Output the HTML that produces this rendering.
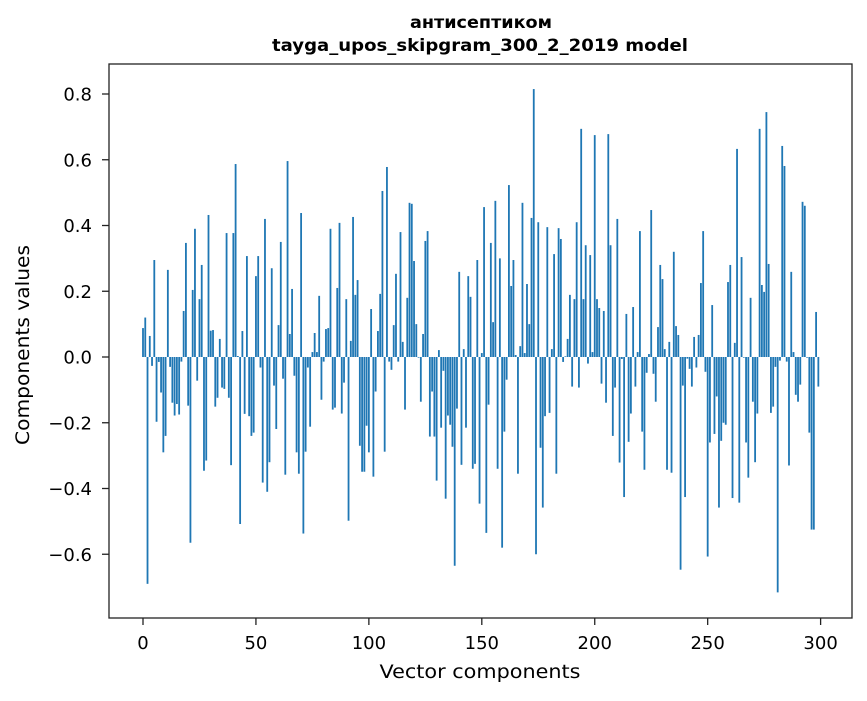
<!DOCTYPE html>
<html><head><meta charset="utf-8"><style>
body{margin:0;background:#fff}
svg text{font-family:"DejaVu Sans","Liberation Sans",sans-serif;fill:#000}
</style></head><body>
<svg id="chart" width="867" height="696" viewBox="0 0 867 696">
<rect width="867" height="696" fill="#fff"/>
<text x="481" y="28" text-anchor="middle" textLength="142" lengthAdjust="spacingAndGlyphs" style="font:bold 17px 'DejaVu Sans',sans-serif">антисептиком</text>
<text x="480" y="51" text-anchor="middle" textLength="416" lengthAdjust="spacingAndGlyphs" style="font:bold 17px 'DejaVu Sans',sans-serif">tayga_upos_skipgram_300_2_2019 model</text>
<g id="bars"></g>
<g id="axes"></g>
<text x="480" y="678" text-anchor="middle" font-size="19" textLength="201" lengthAdjust="spacingAndGlyphs">Vector components</text>
<text transform="translate(29,345) rotate(-90)" text-anchor="middle" font-size="19" textLength="200" lengthAdjust="spacingAndGlyphs">Components values</text>
</svg>
<script>
const values=[0.088,0.12,-0.69,0.064,-0.027,0.295,-0.197,-0.015,-0.108,-0.29,
-0.24,0.265,-0.03,-0.139,-0.178,-0.143,-0.175,-0.014,0.14,0.347,
-0.148,-0.565,0.204,0.39,-0.072,0.176,0.28,-0.346,-0.315,0.432,
0.08,0.082,-0.151,-0.124,0.055,-0.093,-0.097,0.377,-0.124,-0.329,
0.377,0.587,0.003,-0.508,0.079,-0.173,0.307,-0.18,-0.24,-0.23,
0.246,0.307,-0.032,-0.382,0.42,-0.41,-0.32,0.27,-0.087,-0.219,
0.097,0.35,-0.066,-0.358,0.596,0.07,0.207,-0.057,-0.29,-0.355,
0.438,-0.537,-0.288,-0.032,-0.212,0.015,0.073,0.015,0.186,-0.13,
-0.014,0.085,0.088,0.39,-0.16,-0.154,0.21,0.408,-0.172,-0.078,
0.176,-0.498,0.049,0.426,0.189,0.234,-0.27,-0.349,-0.349,-0.209,
-0.29,0.146,-0.364,-0.105,0.079,0.192,0.505,-0.288,0.578,-0.014,
-0.039,0.097,0.253,-0.014,0.38,0.046,-0.16,0.18,0.469,0.466,
0.292,0.1,-0.002,-0.136,0.07,0.353,0.383,-0.242,-0.105,-0.242,
-0.376,0.021,-0.215,-0.042,-0.431,-0.178,-0.206,-0.273,-0.635,-0.157,
0.259,-0.328,0.024,-0.215,0.246,0.183,-0.34,-0.325,0.295,-0.446,
0.012,0.456,-0.535,-0.145,0.347,0.106,0.475,-0.34,0.3,-0.58,
-0.227,-0.069,0.523,0.216,0.295,0.006,-0.355,0.033,0.469,0.012,
0.222,0.1,0.423,0.815,-0.6,0.41,-0.276,-0.458,-0.18,0.395,
-0.17,0.024,0.313,-0.355,0.392,0.359,-0.015,0.002,0.055,0.189,
-0.09,0.176,0.41,-0.093,0.694,0.176,0.34,-0.02,0.31,0.015,
0.675,0.176,0.149,-0.081,0.14,-0.139,0.678,0.34,-0.24,-0.093,
0.42,-0.321,-0.006,-0.426,0.131,-0.258,-0.172,0.152,-0.09,0.015,
0.383,-0.227,-0.343,-0.048,0.009,0.447,-0.051,-0.136,0.091,0.28,
0.237,0.024,-0.343,0.046,-0.352,0.32,0.094,0.067,-0.647,-0.087,
-0.426,-0.005,-0.036,-0.09,0.061,-0.032,0.067,0.225,0.383,-0.045,
-0.607,-0.26,0.158,-0.234,-0.12,-0.458,-0.255,-0.2,-0.206,0.228,
0.28,-0.429,0.043,0.633,-0.443,0.304,-0.002,-0.26,-0.367,0.18,
-0.136,-0.32,-0.172,0.694,0.219,0.198,0.745,0.283,-0.17,-0.151,
-0.03,-0.716,-0.011,0.642,0.581,-0.014,-0.33,0.259,0.015,-0.115,
-0.136,-0.084,0.472,0.46,-0.002,-0.23,-0.525,-0.525,0.137,-0.09];
const xTicks=[0,50,100,150,200,250,300];
const yTicks=[-0.6,-0.4,-0.2,0.0,0.2,0.4,0.6,0.8];
const yTickLabels=["\u22120.6","\u22120.4","\u22120.2","0.0","0.2","0.4","0.6","0.8"];
const NS="http://www.w3.org/2000/svg";
const L=109,R=852,T=64,B=618;
const xs=v=>143+v*2.2587;
const ys=v=>357-v*328.75;
const bars=document.getElementById('bars');
values.forEach((v,i)=>{
  const r=document.createElementNS(NS,'rect');
  const y0=Math.min(ys(v),ys(0)),h=Math.abs(ys(v)-ys(0));
  r.setAttribute('x',xs(i-0.4));r.setAttribute('y',y0);
  r.setAttribute('width',0.8*2.2587);r.setAttribute('height',Math.max(h,0.01));
  r.setAttribute('fill','#1f77b4');
  
  
  bars.appendChild(r);
});
const ax=document.getElementById('axes');
const fr=document.createElementNS(NS,'rect');
fr.setAttribute('x',L);fr.setAttribute('y',T);fr.setAttribute('width',R-L);fr.setAttribute('height',B-T);
fr.setAttribute('fill','none');fr.setAttribute('stroke','#222');fr.setAttribute('stroke-width','1.3');


ax.appendChild(fr);
xTicks.forEach(t=>{
  const l=document.createElementNS(NS,'line');
  l.setAttribute('x1',xs(t));l.setAttribute('x2',xs(t));l.setAttribute('y1',B);l.setAttribute('y2',B+7);
  l.setAttribute('stroke','#222');l.setAttribute('stroke-width','1.3');
  
  
  ax.appendChild(l);
  const tx=document.createElementNS(NS,'text');
  tx.setAttribute('x',xs(t));tx.setAttribute('y',B+31);tx.setAttribute('text-anchor','middle');tx.setAttribute('font-size','18');
  tx.textContent=String(t);
  
  
  ax.appendChild(tx);
});
yTicks.forEach((t,i)=>{
  const l=document.createElementNS(NS,'line');
  l.setAttribute('x1',L-7);l.setAttribute('x2',L);l.setAttribute('y1',ys(t));l.setAttribute('y2',ys(t));
  l.setAttribute('stroke','#222');l.setAttribute('stroke-width','1.3');
  
  
  ax.appendChild(l);
  const tx=document.createElementNS(NS,'text');
  tx.setAttribute('x',L-17);tx.setAttribute('y',ys(t)+6.5);tx.setAttribute('text-anchor','end');tx.setAttribute('font-size','18');
  tx.textContent=yTickLabels[i];
  
  
  ax.appendChild(tx);
});
</script>
</body></html>
